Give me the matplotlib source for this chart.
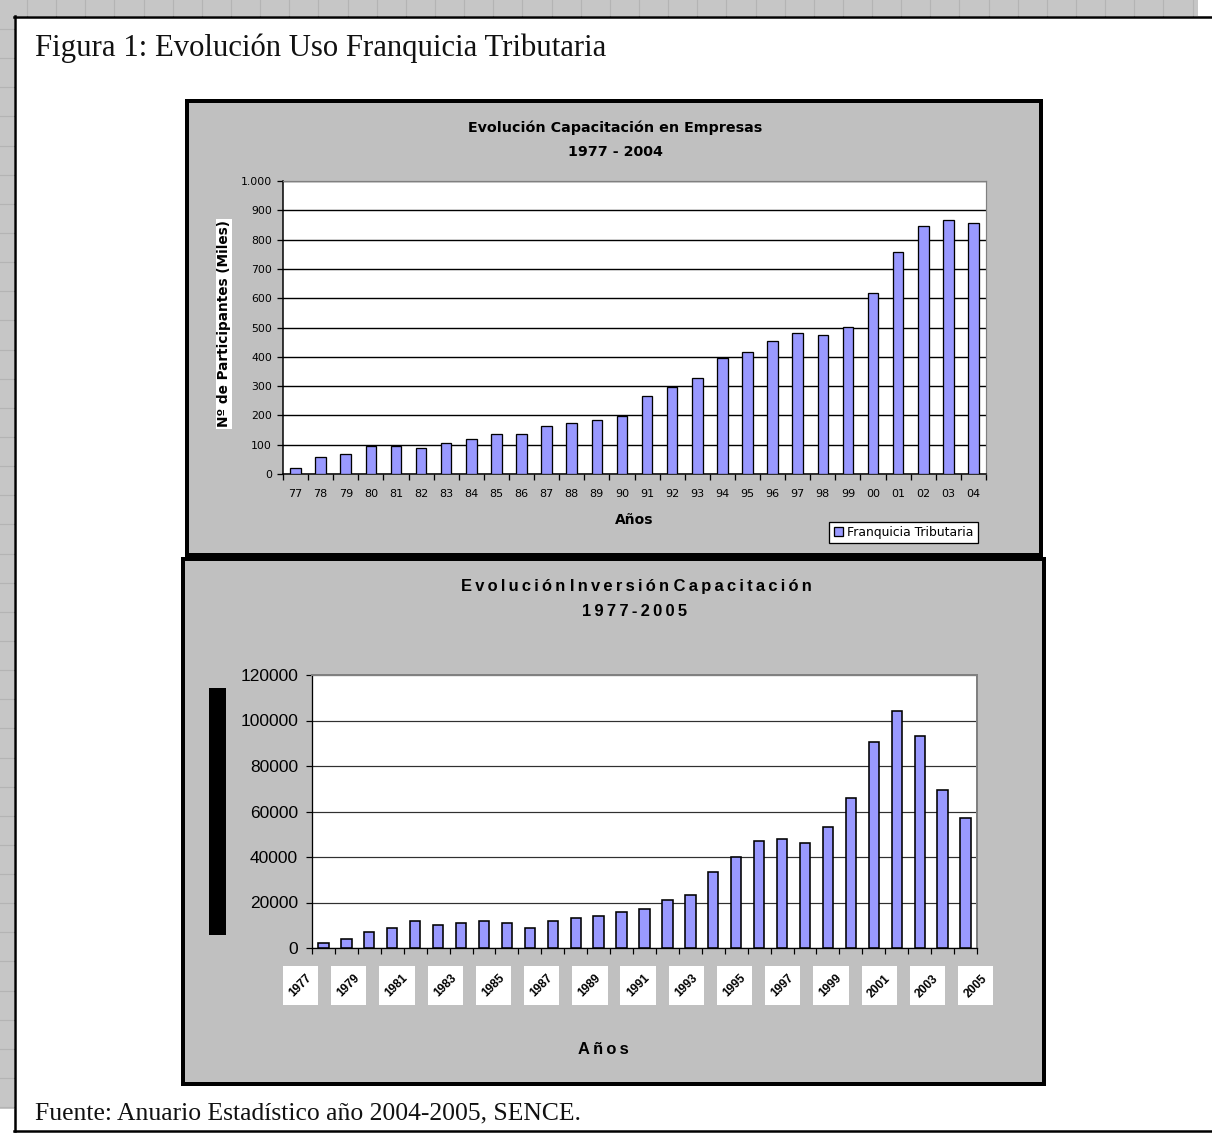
import numpy as np
import matplotlib
matplotlib.use("Agg")
import matplotlib.pyplot as plt
from matplotlib.patches import Rectangle
from matplotlib.lines import Line2D
from matplotlib.transforms import blended_transform_factory

# ---- data ---------------------------------------------------------------
anios_part = ['77', '78', '79', '80', '81', '82', '83', '84', '85', '86',
              '87', '88', '89', '90', '91', '92', '93', '94', '95', '96',
              '97', '98', '99', '00', '01', '02', '03', '04']
participantes_miles = [20, 57, 68, 97, 97, 89, 106, 120, 137, 137,
                       165, 174, 185, 199, 265, 297, 328, 395, 418, 454,
                       481, 475, 501, 618, 758, 848, 868, 858]

anios_inv = list(range(1977, 2006))
inversion = [2000, 4000, 7000, 9000, 12000, 10000, 11000, 12000, 11000, 9000,
             12000, 13000, 14000, 16000, 17000, 21000, 23500, 33500, 40000,
             47000, 48000, 46000, 53000, 66000, 90500, 104000, 93000, 69500,
             57000]
etiquetas_inv = [str(a) for a in anios_inv[::2]]

titulo_doc = "Figura 1: Evolución Uso Franquicia Tributaria"
fuente_doc = "Fuente: Anuario Estadístico año 2004-2005, SENCE."

# ---- page geometry (pixels) --------------------------------------------
W, H = 1212, 1133
fig = plt.figure(figsize=(W / 100, H / 100), dpi=100)
fig.patch.set_facecolor("white")


def fx(x):
    return x / W


def fy(y):
    return 1 - y / H


def fbox(x0, y0, x1, y1):
    return [fx(x0), fy(y1), (x1 - x0) / W, (y1 - y0) / H]


def px(p):
    return p * 72 / 100.0


def spaced(s):
    return "\u2009".join(s)


SANS = ["Liberation Sans", "DejaVu Sans"]
TAHOMA = ["DejaVu Sans"]
SERIF = ["Liberation Serif", "DejaVu Serif"]
BAR_FACE = "#9999ff"

# ---- worksheet background strips with cell grid -------------------------
grid_bg = "#c6c6c6"
grid_ln = "#b4b4b4"
fig.add_artist(Rectangle((0, fy(16)), fx(1198), 16 / H, transform=fig.transFigure,
                         facecolor=grid_bg, edgecolor="none", zorder=-3))
fig.add_artist(Rectangle((0, fy(1109)), fx(14), 1109 / H, transform=fig.transFigure,
                         facecolor=grid_bg, edgecolor="none", zorder=-3))
step = 29.14
for k in range(0, 42):
    xv = 27 + step * k
    if xv < 1198:
        fig.add_artist(Line2D([fx(xv), fx(xv)], [fy(0), fy(16)], transform=fig.transFigure,
                              color=grid_ln, lw=px(1.2), zorder=-2))
    yv = 29 + step * k
    if yv < 1109:
        fig.add_artist(Line2D([0, fx(14)], [fy(yv), fy(yv)], transform=fig.transFigure,
                              color=grid_ln, lw=px(1.2), zorder=-2))

# document frame
fig.add_artist(Line2D([fx(14), 1], [fy(16.5), fy(16.5)], transform=fig.transFigure,
                      color="black", lw=px(2.5), zorder=-1))
fig.add_artist(Line2D([fx(15), fx(15)], [fy(16), fy(1131)], transform=fig.transFigure,
                      color="black", lw=px(2.5), zorder=-1))
fig.add_artist(Line2D([fx(14), 1], [fy(1130.5), fy(1130.5)], transform=fig.transFigure,
                      color="black", lw=px(2.5), zorder=-1))


def fit_width(txt, target):
    r = fig.canvas.get_renderer()
    w = txt.get_window_extent(r).width
    txt.set_fontsize(txt.get_fontsize() * target / w)


t = fig.text(fx(35), fy(56), titulo_doc, family=SERIF, fontsize=20,
             ha="left", va="baseline", color="#111111")
fit_width(t, 572)
t = fig.text(fx(35), fy(1119), fuente_doc, family=SERIF, fontsize=18,
             ha="left", va="baseline", color="#111111")
fit_width(t, 547)

# ---- chart frames --------------------------------------------------------
fig.add_artist(Rectangle((fx(187), fy(555)), (1041 - 187) / W, (555 - 101) / H,
                         transform=fig.transFigure, facecolor="#c0c0c0",
                         edgecolor="black", lw=px(4), zorder=-1))
fig.add_artist(Rectangle((fx(183), fy(1084)), (1044 - 183) / W, (1084 - 559) / H,
                         transform=fig.transFigure, facecolor="#c0c0c0",
                         edgecolor="black", lw=px(4), zorder=-1))

# ---- top chart: participants --------------------------------------------
ax1 = fig.add_axes(fbox(283, 181, 986, 474))
ax1.set_facecolor("white")
n1 = len(anios_part)
x1 = np.arange(n1)
bars1 = ax1.bar(x1, participantes_miles, width=0.42, color=BAR_FACE,
                edgecolor="black", linewidth=px(1.3), zorder=3,
                label="Franquicia Tributaria")
ax1.set_xlim(-0.5, n1 - 0.5)
ax1.set_ylim(0, 1000)
ax1.set_yticks(range(0, 1001, 100))
ax1.set_yticklabels([f"{v:,}".replace(",", ".") for v in range(0, 1001, 100)],
                    family=TAHOMA, fontsize=7.8)
ax1.yaxis.grid(True, color="black", lw=px(1.4))
ax1.set_axisbelow(True)
ax1.set_xticks(np.arange(-0.5, n1, 1))
ax1.set_xticklabels([])
ax1.set_xticks(x1, minor=True)
ax1.set_xticklabels(anios_part, minor=True, family=TAHOMA, fontsize=8)
ax1.tick_params(axis="x", which="major", direction="out", length=4, width=px(1.3))
ax1.tick_params(axis="x", which="minor", length=0, pad=11)
ax1.tick_params(axis="y", direction="out", length=4, width=px(1.3), pad=4)
for s in ("left", "bottom"):
    ax1.spines[s].set_color("black")
    ax1.spines[s].set_linewidth(px(1.5))
for s in ("top", "right"):
    ax1.spines[s].set_color("#808080")
    ax1.spines[s].set_linewidth(px(1.2))

fig.text(fx(615), fy(128), "Evolución Capacitación en Empresas", family=TAHOMA,
         fontweight="bold", fontsize=10.3, ha="center", va="center")
fig.text(fx(615), fy(152), "1977 - 2004", family=TAHOMA,
         fontweight="bold", fontsize=10.3, ha="center", va="center")
fig.text(fx(634), fy(520), "Años", family=TAHOMA, fontweight="bold",
         fontsize=10, ha="center", va="center")
fig.text(fx(224), fy(324), "Nº de Participantes (Miles)", family=TAHOMA,
         fontweight="bold", fontsize=9.8, rotation=90, ha="center", va="center",
         bbox=dict(facecolor="white", edgecolor="none", pad=1.0))
leg = ax1.legend(handles=[bars1], loc="center",
                 bbox_to_anchor=(fx(903.5), fy(532.5)), bbox_transform=fig.transFigure,
                 fancybox=False, framealpha=1, edgecolor="black",
                 prop=dict(family=TAHOMA, size=8.9), handlelength=0.75,
                 handleheight=0.75, handletextpad=0.3, borderpad=0.35,
                 borderaxespad=0)
leg.get_frame().set_linewidth(px(1.3))

# ---- bottom chart: investment -------------------------------------------
ax2 = fig.add_axes(fbox(312, 675, 977, 948))
ax2.set_facecolor("white")
n2 = len(anios_inv)
x2 = np.arange(n2)
ax2.bar(x2, inversion, width=0.45, color=BAR_FACE, edgecolor="black",
        linewidth=px(1.6), zorder=3)
ax2.set_xlim(-0.5, n2 - 0.5)
ax2.set_ylim(0, 120000)
ax2.set_yticks(range(0, 120001, 20000))
ax2.set_yticklabels([str(v) for v in range(0, 120001, 20000)],
                    family=SANS, fontsize=12.5)
ax2.yaxis.grid(True, color="#303030", lw=px(1.2))
ax2.set_axisbelow(True)
ax2.set_xticks(np.arange(-0.5, n2, 1))
ax2.set_xticklabels([])
ax2.tick_params(axis="x", direction="out", length=4, width=px(1.2))
ax2.tick_params(axis="y", direction="out", length=4, width=px(1.2), pad=6)
for s in ("left", "bottom"):
    ax2.spines[s].set_color("black")
    ax2.spines[s].set_linewidth(px(1.3))
for s in ("top", "right"):
    ax2.spines[s].set_color("#808080")
    ax2.spines[s].set_linewidth(px(2))

# rotated year labels sitting on white tiles
lab_tr = blended_transform_factory(ax2.transData, fig.transFigure)
for i, lab in zip(range(0, n2, 2), etiquetas_inv):
    cx = -1.0 + 1.0514 * i
    fig.add_artist(Rectangle((cx - 0.77, fy(1005)), 1.54, 39 / H, transform=lab_tr,
                             facecolor="white", edgecolor="none", zorder=2))
    fig.text(cx, fy(986), lab, transform=lab_tr, rotation=45, ha="center",
             va="center", family=SANS, fontweight="bold", fontsize=8.6, zorder=3)

tt = fig.text(fx(636), fy(586), spaced("Evolución") + " " + spaced("Inversión") + " "
              + spaced("Capacitación"), family=SANS, fontweight="bold",
              fontsize=12, ha="center", va="center")
fit_width(tt, 352)
t2 = fig.text(fx(635), fy(612), spaced("1977-2005"), family=SANS, fontweight="bold",
              fontsize=12, ha="center", va="center")
t2.set_fontsize(tt.get_fontsize())
fig.text(fx(603), fy(1050), spaced("Años"), family=SANS, fontweight="bold",
         fontsize=tt.get_fontsize(), ha="center", va="center")

# vertical bar standing where the axis title sits
fig.add_artist(Rectangle((fx(209), fy(935)), 17 / W, (935 - 688) / H,
                         transform=fig.transFigure, facecolor="black",
                         edgecolor="none", zorder=2))

fig.savefig("out.png", dpi=100, facecolor=fig.get_facecolor())
